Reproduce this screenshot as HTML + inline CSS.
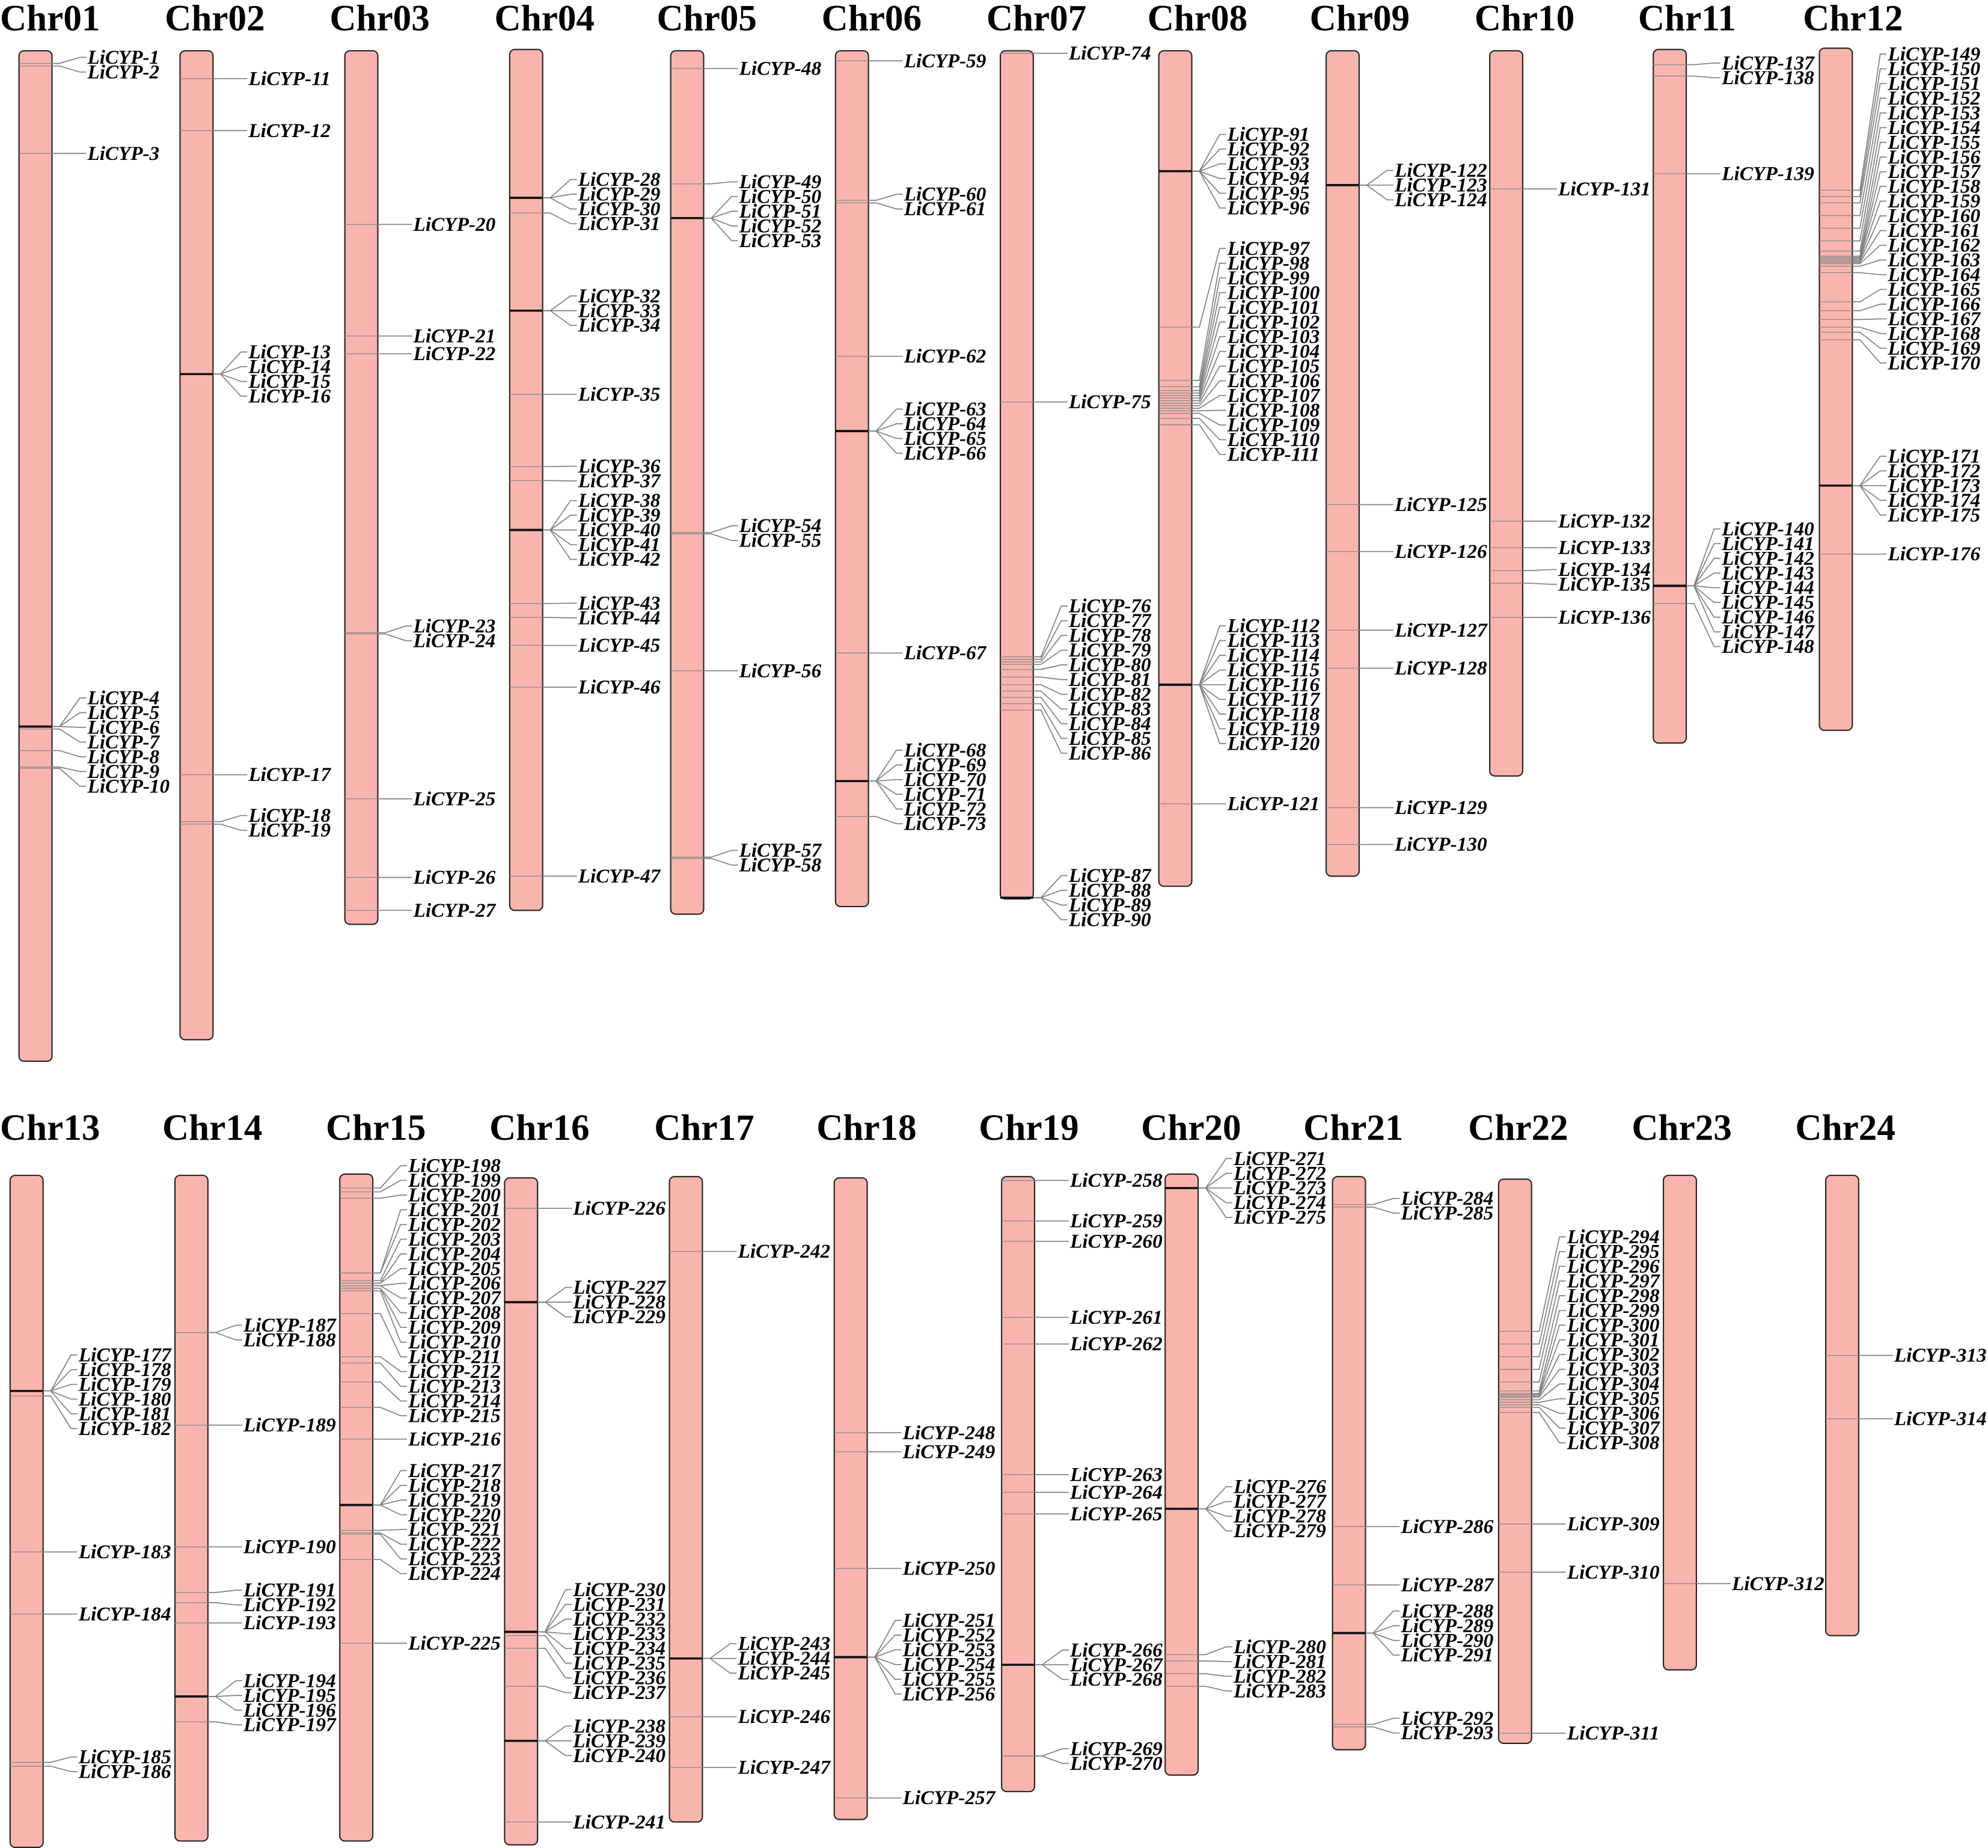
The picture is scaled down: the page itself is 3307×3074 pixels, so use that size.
<!DOCTYPE html>
<html><head><meta charset="utf-8"><style>
html,body{margin:0;padding:0;background:#fff}
svg{display:block}
</style></head><body>
<svg id="chart" xmlns="http://www.w3.org/2000/svg" width="3307" height="3074" viewBox="0 0 1568 1457.5">
<rect width="1568" height="1457.5" fill="#fff"/>
</svg>
<script>
const chromNames = ["Chr01","Chr02","Chr03","Chr04","Chr05","Chr06","Chr07","Chr08","Chr09","Chr10","Chr11","Chr12","Chr13","Chr14","Chr15","Chr16","Chr17","Chr18","Chr19","Chr20","Chr21","Chr22","Chr23","Chr24"];
const chromLeft = [15,142,272,402,529,659,789,914,1046,1175,1304,1435, 8,138,268,398,528,658,790,919,1051,1182,1312,1440];
const titleLeft = [0,130,260,390,518,648,778,905,1033,1163,1292,1422, 0,128,257,386,516,644,772,900,1028,1158,1287,1416];
const chromTop = [40,40,40,39,40,40,40,40,40,40,39,38, 927,927,926,929,928,929,928,926,928,930,927,927];
const chromBottom = [837,820,729,718,721,715,709,699,691,612,586,576, 1457,1452,1452,1455,1437,1435,1413,1400,1380,1375,1317,1290];
const genePos = [
 [50,52,121,573,573,573,575,592,605,606],
 [62,103,295,295,295,295,611,648,650],
 [177,265,279,499,500,630,692,718],
 [156,156,156,168,245,245,245,311,368,379,418,418,418,418,418,476,487,509,542,691],
 [54,145,172,172,172,172,420,421,529,676,677],
 [48,158,160,281,340,340,340,340,515,616,616,616,616,616,644],
 [42,317,518,520,522,524,528,534,540,545,550,555,560,708,708,708,708],
 [135,135,135,135,135,135,258,300,305,308,310,312,314,316,318,320,322,324,326,330,335,540,540,540,540,540,540,540,540,540,634],
 [146,146,146,398,435,497,527,637,666],
 [149,411,432,450,460,487],
 [51,60,137,462,462,462,462,462,462,462,462,476],
 [150,155,160,170,180,190,198,202,203,204,205,206,207,208,210,215,238,245,252,258,262,268,383,383,383,383,383,437],
 [1097,1097,1097,1097,1097,1101,1224,1273,1390,1393],
 [1051,1051,1124,1220,1256,1264,1280,1338,1338,1338,1358],
 [937,940,945,1004,1004,1010,1012,1012,1014,1014,1016,1016,1018,1036,1070,1075,1090,1110,1135,1187,1187,1187,1187,1207,1209,1210,1230,1296],
 [953,1027,1027,1027,1287,1287,1287,1287,1287,1290,1300,1330,1373,1373,1373,1437],
 [987,1308,1308,1308,1354,1394],
 [1130,1145,1237,1307,1307,1307,1307,1307,1307,1418],
 [931,963,979,1039,1060,1163,1177,1194,1313,1313,1313,1385,1385],
 [937,937,937,937,937,1190,1190,1190,1190,1305,1310,1320,1330],
 [950,952,1204,1250,1288,1288,1288,1288,1360,1362],
 [1050,1060,1070,1080,1090,1097,1099,1100,1101,1102,1104,1106,1108,1110,1114,1202,1240,1367],
 [1249],
 [1069,1119]
];
// vertical nudge for large label blocks (layout style)
const bigBlockNudge = {7:-36, 11:-44, 21:-36};
const svg = document.getElementById('chart');
const NS = 'http://www.w3.org/2000/svg';
const GAP = 11.6, W = 26;
function mk(tag, attrs){const e=document.createElementNS(NS,tag);for(const k in attrs)e.setAttribute(k,attrs[k]);return e;}
function layout(ys, nudge){
  let groups=[];
  ys.forEach((y,i)=>{
    groups.push({sum:y,n:1});
    while(groups.length>1){
      const g=groups[groups.length-1], p=groups[groups.length-2];
      const gTop=g.sum/g.n-(g.n-1)*GAP/2, pTop=p.sum/p.n-(p.n-1)*GAP/2;
      if(gTop < pTop+p.n*GAP){p.sum+=g.sum;p.n+=g.n;groups.pop();} else break;
    }
  });
  const out=[];
  groups.forEach(g=>{let top=g.sum/g.n-(g.n-1)*GAP/2; if(g.n>=12) top+=nudge; for(let k=0;k<g.n;k++)out.push(top+k*GAP);});
  return out;
}
let geneNo = 1;
chromNames.forEach((name,c)=>{
  const x=chromLeft[c], t=chromTop[c], b=chromBottom[c], right=x+W;
  const title=mk('text',{x:titleLeft[c],y:(c<12?24:899),'font-family':'"Liberation Serif",serif','font-weight':'bold','font-size':29,fill:'#000'});
  title.textContent=name;
  
  
  svg.appendChild(title);
  const g=mk('g',{});
  
  
  svg.appendChild(g);
  g.appendChild(mk('rect',{x:x,y:t,width:W,height:b-t,rx:4,ry:4,fill:'#f9b4ae',stroke:'#222','stroke-width':1}));
  const ys=genePos[c].slice().sort((a,b)=>a-b);
  const ly=layout(ys, bigBlockNudge[c]||0);
  const counts={};ys.forEach(y=>counts[y]=(counts[y]||0)+1);
  ys.forEach((y,i)=>{
    const multi=counts[y]>2;
    g.appendChild(mk('line',{x1:x,x2:right,y1:y,y2:y,stroke:multi?'#111':'#888','stroke-width':multi?1.6:0.6}));
    g.appendChild(mk('polyline',{points:`${right},${y} ${right+6},${y} ${right+22},${ly[i]} ${right+27},${ly[i]}`,fill:'none',stroke:'#808080','stroke-width':0.8}));
    const label='LiCYP-'+geneNo;
    const tx=mk('text',{x:right+28,y:ly[i]+5,'font-family':'"Liberation Serif",serif','font-weight':'bold','font-style':'italic','font-size':15.5,fill:'#000',textLength:label.length*8.1,lengthAdjust:'spacingAndGlyphs'});
    tx.textContent=label;
    
    
    g.appendChild(tx);
    geneNo++;
  });
});
</script>
</body></html>
